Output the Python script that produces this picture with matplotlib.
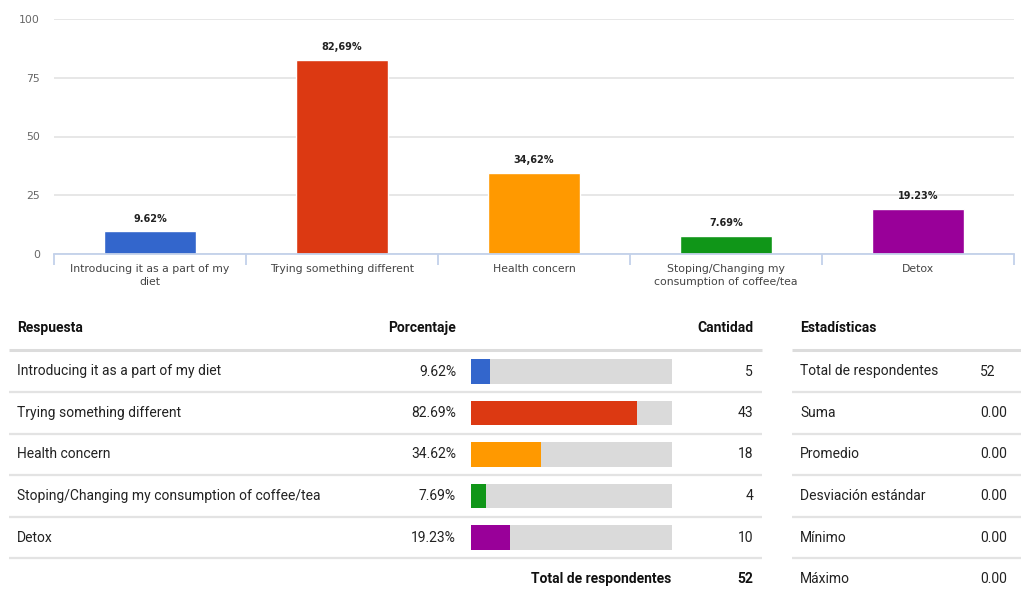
import matplotlib
matplotlib.use("Agg")
import matplotlib.pyplot as plt
import numpy as np

# ---- data ----
categories = ["Introducing it as a part of my diet", "Trying something different",
              "Health concern", "Stoping/Changing my consumption of coffee/tea", "Detox"]
chart_labels = ["Introducing it as a part of my\ndiet", "Trying something different",
                "Health concern", "Stoping/Changing my\nconsumption of coffee/tea", "Detox"]
percentages = [9.62, 82.69, 34.62, 7.69, 19.23]
bar_value_labels = ["9.62%", "82,69%", "34,62%", "7.69%", "19.23%"]
table_pct_labels = ["9.62%", "82.69%", "34.62%", "7.69%", "19.23%"]
counts = [5, 43, 18, 4, 10]
total_respondents = 52
colors = ["#3366cc", "#dc3912", "#ff9900", "#109618", "#990099"]
y_ticks = [0, 25, 50, 75, 100]
stat_names = ["Total de respondentes", "Suma", "Promedio", "Desviación estándar", "Mínimo", "Máximo"]
stat_values = ["52", "0.00", "0.00", "0.00", "0.00", "0.00"]

W, H = 1021, 590
fig = plt.figure(figsize=(W / 100, H / 100), dpi=100)
fig.patch.set_facecolor("white")

# ---- column chart ----
L, R, T, B = 54, 1014, 19, 254
ax = fig.add_axes([L / W, 1 - B / H, (R - L) / W, (B - T) / H])
x = np.arange(len(categories))
ax.bar(x, percentages, width=0.475, color=colors, edgecolor="white", linewidth=1, zorder=3)
ax.set_xlim(-0.5, len(categories) - 0.5)
ax.set_ylim(0, 100)
ax.set_yticks(y_ticks)
ax.set_yticklabels([str(v) for v in y_ticks], fontsize=7.8, color="#666666", family="DejaVu Sans")
ax.tick_params(axis="y", length=0, pad=10)
ax.grid(axis="y", color="#e3e3e3", linewidth=1.2, zorder=0)
for s in ["top", "right", "left"]:
    ax.spines[s].set_visible(False)
ax.spines["bottom"].set_color("#c3d1ea")
ax.spines["bottom"].set_linewidth(1.3)
ax.spines["bottom"].set_zorder(4)
ax.set_xticks(x)
ax.set_xticklabels(chart_labels, fontsize=7.8, color="#444444", family="DejaVu Sans", linespacing=1.4)
ax.tick_params(axis="x", length=0, pad=7)
ax.set_xticks(np.arange(len(categories) + 1) - 0.5, minor=True)
ax.tick_params(axis="x", which="minor", length=8, color="#c3d1ea", width=1.3)
for xi, v, lab in zip(x, percentages, bar_value_labels):
    ax.annotate(lab, (xi, v), xytext=(0, 5.5), textcoords="offset points", ha="center", va="bottom",
                fontsize=7, fontweight="bold", color="#222222", family="DejaVu Sans")

# ---- table overlay (pixel coordinates) ----
ov = fig.add_axes([0, 0, 1, 1], zorder=-1)
ov.set_xlim(0, W)
ov.set_ylim(H, 0)
ov.axis("off")

row_top = 350.75
row_h = 41.5
header_y = 328
fam = "Roboto"
fs = 10
ov.text(17, header_y, "Respuesta", fontsize=fs, fontweight="bold", va="center", ha="left", family=fam, color="#111111")
ov.text(456, header_y, "Porcentaje", fontsize=fs, fontweight="bold", va="center", ha="right", family=fam, color="#111111")
ov.text(753, header_y, "Cantidad", fontsize=fs, fontweight="bold", va="center", ha="right", family=fam, color="#111111")
ov.text(800, header_y, "Estadísticas", fontsize=fs, fontweight="bold", va="center", ha="left", family=fam, color="#111111")

ov.plot([9, 762], [350, 350], color="#dcdcdc", linewidth=2.2, solid_capstyle="butt")
ov.plot([792, 1021], [350, 350], color="#dcdcdc", linewidth=2.2, solid_capstyle="butt")

for i, (cat, pl, c) in enumerate(zip(categories, table_pct_labels, counts)):
    yc = row_top + row_h * (i + 0.5)
    yb = row_top + row_h * (i + 1)
    ov.text(17, yc, cat, fontsize=fs, va="center", ha="left", family=fam, color="#222222")
    ov.text(456, yc, pl, fontsize=fs, va="center", ha="right", family=fam, color="#222222")
    ov.text(753, yc, str(c), fontsize=fs, va="center", ha="right", family=fam, color="#222222")
    ov.plot([9, 762], [yb, yb], color="#e3e3e3", linewidth=1.6, solid_capstyle="butt")

for i, (n, v) in enumerate(zip(stat_names, stat_values)):
    yc = row_top + row_h * (i + 0.5)
    yb = row_top + row_h * (i + 1)
    ov.text(800, yc, n, fontsize=fs, va="center", ha="left", family=fam, color="#222222")
    ov.text(980, yc, v, fontsize=fs, va="center", ha="left", family=fam, color="#222222")
    if i < len(stat_names) - 1:
        ov.plot([792, 1021], [yb, yb], color="#e3e3e3", linewidth=1.6, solid_capstyle="butt")

ytot = row_top + row_h * 5.5
ov.text(671, ytot, "Total de respondentes", fontsize=fs, fontweight="bold", va="center", ha="right", family=fam, color="#111111")
ov.text(753, ytot, str(total_respondents), fontsize=fs, fontweight="bold", va="center", ha="right", family=fam, color="#111111")

# ---- table bars ----
bx0, bx1 = 471, 672
tb = fig.add_axes([bx0 / W, 1 - (row_top + 5 * row_h) / H, (bx1 - bx0) / W, 5 * row_h / H])
rows = np.arange(len(categories))
tb.barh(rows, [100] * len(categories), height=0.6, color="#dadada")
tb.barh(rows, percentages, height=0.6, color=colors)
tb.set_xlim(0, 100)
tb.set_ylim(len(categories) - 0.5, -0.5)
tb.axis("off")

fig.savefig("out.png", dpi=100, facecolor="white")
